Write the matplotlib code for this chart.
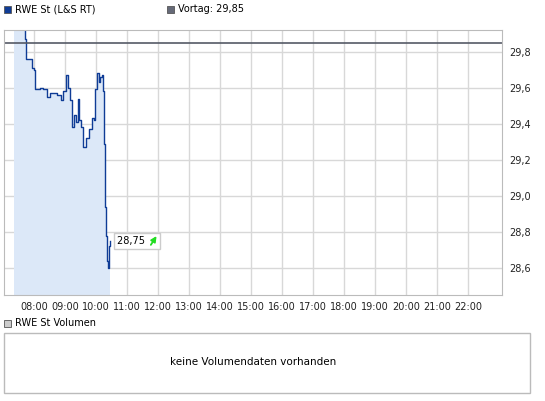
import matplotlib
matplotlib.use("Agg")
import matplotlib.pyplot as plt
from matplotlib.patches import Rectangle

# time in pixel-derived hours, price values
times = [7.35, 7.67, 7.70, 7.74, 7.90, 7.93, 8.00, 8.03, 8.10, 8.19, 8.29, 8.42, 8.52, 8.74, 8.87,
         8.94, 9.03, 9.10, 9.16, 9.23, 9.29, 9.35, 9.42, 9.45, 9.52, 9.58, 9.68, 9.77, 9.87, 9.94,
         9.97, 10.03, 10.10, 10.13, 10.19, 10.24, 10.25, 10.27, 10.30, 10.33, 10.35, 10.38, 10.42, 10.45]
prices = [30.0, 29.95, 29.87, 29.76, 29.76, 29.71, 29.70, 29.59, 29.59, 29.60, 29.59, 29.55, 29.57, 29.56, 29.53,
          29.58, 29.67, 29.60, 29.53, 29.38, 29.45, 29.41, 29.54, 29.42, 29.38, 29.27, 29.32, 29.37, 29.43, 29.42,
          29.59, 29.68, 29.63, 29.66, 29.67, 29.58, 29.43, 29.29, 28.94, 28.78, 28.64, 28.60, 28.72, 28.75]
prev_close = 29.85
last_label = "28,75"
hour_ticks = list(range(8, 23))
y_ticks = [28.6, 28.8, 29.0, 29.2, 29.4, 29.6, 29.8]

W, H = 545, 401
fig = plt.figure(figsize=(W/100, H/100), dpi=100)
fig.patch.set_facecolor("white")
ax = fig.add_axes([4/W, 1-295/H, 498/W, 265/H])
ax.set_xlim(7.03, 23.1)
ax.set_ylim(28.45, 29.92)
ax.fill_between(times, prices, 28.45, step="post", color="#dce8f8", lw=0)
ax.plot(times, prices, drawstyle="steps-post", color="#0f3c96", lw=1)
ax.axhline(prev_close, color="#555a66", lw=1.2)
ax.set_xticks(hour_ticks)
ax.set_xticklabels([f"{h:02d}:00" for h in hour_ticks])
ax.set_yticks(y_ticks)
ax.set_yticklabels([f"{v:.1f}".replace(".", ",") for v in y_ticks])
ax.yaxis.tick_right()
ax.grid(True, color="#d8d8d8", lw=1)
ax.set_axisbelow(True)
ax.tick_params(length=0, labelsize=7, colors="#222222", pad=5)
for s in ax.spines.values():
    s.set_color("#bbbbbb")
ax.annotate(last_label + "    ", xy=(times[-1], prices[-1]), xytext=(5, 0), textcoords="offset points",
            va="center", fontsize=7, bbox=dict(boxstyle="square,pad=0.3", fc="white", ec="#cccccc"))
ax.annotate("", xy=(12.0, 28.79), xytext=(11.72, 28.715),
            arrowprops=dict(arrowstyle="-|>", color="#22dd22", lw=1.3, mutation_scale=8))

# legend top
fig.patches.append(Rectangle((4/W, 1-13/H), 7/W, 7/H, transform=fig.transFigure, fc="#0f3c96", ec="#555555", lw=0.6))
fig.text(15/W, 1-9/H, "RWE St (L&S RT)", fontsize=7, va="center")
fig.patches.append(Rectangle((167/W, 1-13/H), 7/W, 7/H, transform=fig.transFigure, fc="#666a78", ec="#555555", lw=0.6))
fig.text(178/W, 1-9/H, "Vortag: 29,85", fontsize=7, va="center")

# volume panel
fig.patches.append(Rectangle((4/W, 1-327/H), 7/W, 7/H, transform=fig.transFigure, fc="#cccccc", ec="#555555", lw=0.6))
fig.text(15/W, 1-323/H, "RWE St Volumen", fontsize=7, va="center")
fig.patches.append(Rectangle((4/W, 1-393/H), 526/W, 60/H, transform=fig.transFigure, fc="white", ec="#bbbbbb", lw=1))
fig.text(253/W, 1-362/H, "keine Volumendaten vorhanden", fontsize=7.5, ha="center", va="center")

fig.savefig("out.png", dpi=100)
